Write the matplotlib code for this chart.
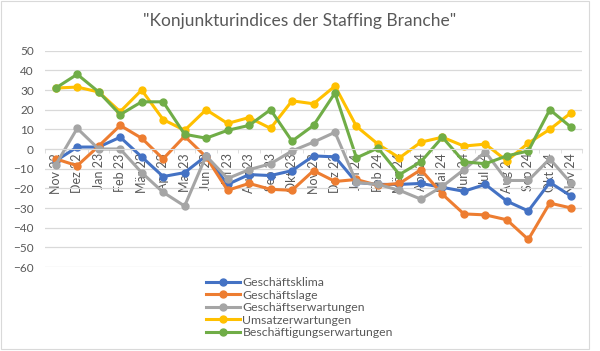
import numpy as np
import matplotlib.pyplot as plt
from matplotlib.patches import Rectangle

plt.rcParams['font.family'] = ['Lato', 'DejaVu Sans']

months = ['Nov 22', 'Dez 22', 'Jan 23', 'Feb 23', 'Mär 23', 'Apr 23', 'Mai 23', 'Jun 23',
          'Jul 23', 'Aug 23', 'Sep 23', 'Okt 23', 'Nov 23', 'Dez 23', 'Jan 24', 'Feb 24',
          'Mär 24', 'Apr 24', 'Mai 24', 'Jun 24', 'Jul 24', 'Aug 24', 'Sep 24', 'Okt 24', 'Nov 24']

klima = [-6, 1, 1, 6, -4, -14, -12, -3.5, -18, -13, -13.5, -11, -3.5, -4, -17, -18,
         -18, -17.5, -19.5, -21.5, -18, -26.5, -31.5, -17, -24]
lage = [-5, -8.5, 1.5, 12, 5.5, -5, 6.5, -4, -21, -17.5, -20.5, -21, -11, -16.5, -15.5, -18.5,
        -17.5, -10.5, -23, -33, -33.5, -36, -46, -27.5, -30]
erwartung = [-8, 10.5, 0, 0, -12, -22, -29, -3.5, -15, -10.5, -7.5, -1, 3.5, 8.5, -17, -18,
             -21, -25.5, -19, -10.5, -1.5, -16, -16, -5, -17.5]
umsatz = [31, 31.5, 29, 19, 30, 15, 9.5, 20, 13, 16, 10.5, 24.5, 23, 32, 11.5, 2.5,
          -4.5, 3.5, 6, 1.5, 2.5, -6, 3, 10, 18.5]
beschaeft = [31, 38, 29, 17.5, 24, 24, 7.5, 5.5, 9.5, 12, 20, 4, 12, 28.5, -4.5, 0.5,
             -13, -6.5, 6, -6.5, -7.5, -3.5, -1, 20, 11]

series = [('Geschäftsklima', klima, '#4472C4'),
          ('Geschäftslage', lage, '#ED7D31'),
          ('Geschäftserwartungen', erwartung, '#A5A5A5'),
          ('Umsatzerwartungen', umsatz, '#FFC000'),
          ('Beschäftigungserwartungen', beschaeft, '#70AD47')]

fig = plt.figure(figsize=(6, 3.51), dpi=100)
ax = fig.add_axes([0.075, 0.2393, 0.895, 0.6163])

x = np.arange(len(months))
for name, vals, col in series:
    ax.plot(x, vals, '-o', color=col, lw=2.2, ms=5, label=name)

ax.set_xlim(-0.5, len(months) - 0.5)
ax.set_ylim(-60, 50)
ax.set_yticks(range(-60, 51, 10))
ax.yaxis.grid(True, color='#D9D9D9', lw=0.9)
ax.set_axisbelow(True)
for s in ['top', 'right', 'left']:
    ax.spines[s].set_visible(False)
ax.spines['bottom'].set_position(('data', 0))
ax.spines['bottom'].set_color('#D9D9D9')
ax.set_xticks(x)
ax.set_xticklabels(months, rotation=90)
ax.set_xticks(np.arange(-0.5, len(months), 1), minor=True)
ax.tick_params(axis='x', which='major', length=0, pad=3, labelsize=9, labelcolor='#595959')
ax.tick_params(axis='x', which='minor', length=3, color='#D9D9D9')
ax.tick_params(axis='y', length=0, labelsize=8.5, labelcolor='#595959', pad=8)

fig.text(0.5, 0.94, '"Konjunkturindices der Staffing Branche"', ha='center', va='center',
         fontsize=12.5, color='#595959')

fig.legend(loc='upper left', bbox_to_anchor=(0.343, 0.21), frameon=False, fontsize=8.8,
           labelcolor='#595959', handlelength=2.8, handletextpad=0.2, labelspacing=0.12,
           borderaxespad=0, borderpad=0)

fig.patches.append(Rectangle((0.002, 0.006), 0.98, 0.99, transform=fig.transFigure,
                             fill=False, edgecolor='#D9D9D9', lw=0.8))

fig.savefig('out.png', dpi=100)
